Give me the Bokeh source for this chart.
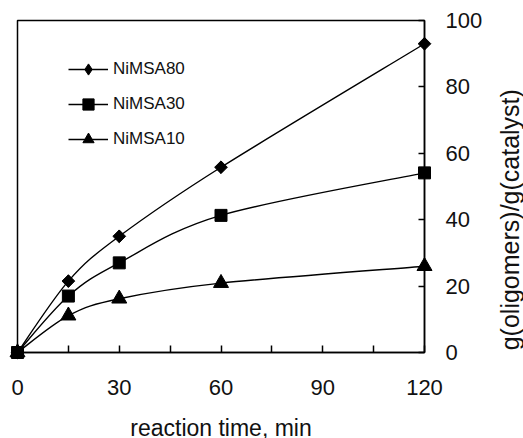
import numpy as np
from bokeh.plotting import figure
from bokeh.layouts import row, column
from bokeh.models import FixedTicker, Legend, LegendItem
from bokeh.core.properties import value
from bokeh.embed import file_html
from bokeh.resources import INLINE

# Oligomer yield per gram of catalyst vs. reaction time
time_min = [0, 15, 30, 60, 120]
nimsa80 = [0, 21.5, 35.0, 55.8, 93.0]
nimsa30 = [0, 17.0, 27.0, 41.3, 54.1]
nimsa10 = [0, 11.1, 16.2, 20.9, 26.0]

x_ticks = [0, 15, 30, 45, 60, 75, 90, 105, 120]
x_tick_labels = ["0", "", "30", "", "60", "", "90", "", "120"]
y_ticks = [0, 20, 40, 60, 80, 100]
x_title = "reaction time, min"
y_title = "g(oligomers)/g(catalyst)"

FONT = "Liberation Sans"
INK = "#111111"

TOP, BOTTOM, LEFT, RIGHT = 20, 58, 17, 66
MAIN_W, MAIN_H = 490, 410
SIDE_W, FOOT_H = 33, 28


def smooth_segments(xs, ys):
    """Cubic Bezier segments (Catmull-Rom control points) through the points."""
    xs = np.asarray(xs, float)
    ys = np.asarray(ys, float)
    n = len(xs)
    px = np.concatenate([[xs[0]], xs, [xs[-1]]])
    py = np.concatenate([[ys[0]], ys, [ys[-1]]])
    return dict(
        x0=px[1:n], y0=py[1:n],
        x1=px[2:n + 1], y1=py[2:n + 1],
        cx0=px[1:n] + (px[2:n + 1] - px[0:n - 1]) / 6,
        cy0=py[1:n] + (py[2:n + 1] - py[0:n - 1]) / 6,
        cx1=px[2:n + 1] - (px[3:n + 2] - px[1:n]) / 6,
        cy1=py[2:n + 1] - (py[3:n + 2] - py[1:n]) / 6,
    )


def blank(fig):
    fig.title.visible = False
    fig.grid.visible = False
    fig.outline_line_color = None
    fig.background_fill_color = "white"
    fig.border_fill_color = "white"


p = figure(
    width=MAIN_W, height=MAIN_H,
    x_range=(0, 120), y_range=(0, 100),
    y_axis_location="right",
    min_border_left=LEFT, min_border_top=TOP,
    min_border_right=RIGHT, min_border_bottom=BOTTOM,
    output_backend="svg", toolbar_location=None,
)
blank(p)
p.outline_line_color = "black"
p.outline_line_width = 1.5

# (label, values, marker drawn on the curve)
series = [
    ("NiMSA80", nimsa80, dict(marker="square", angle=np.pi / 4, size=9)),
    ("NiMSA30", nimsa30, dict(marker="square", size=12)),
    ("NiMSA10", nimsa10, dict(marker="triangle", size=15)),
]

items = []
for name, vals, mk in series:
    curve = p.bezier(**smooth_segments(time_min, vals), line_color="black", line_width=1.4)
    # overlay level keeps the end markers whole where they sit on the frame edge
    pts = p.scatter(time_min, vals, color="black", level="overlay", **mk)
    key = pts
    if mk.get("angle"):
        # legend swatches ignore marker angle, so give this series a diamond key
        # that sits entirely inside the turned square
        key = p.scatter(time_min, vals, marker="diamond", size=12, color="black", level="overlay")
    items.append(LegendItem(label=name, renderers=[curve, key]))

legend = Legend(
    items=items, location=(51, 199),
    glyph_width=40, glyph_height=28, label_height=28, spacing=7,
    label_standoff=5, padding=0, margin=0,
    border_line_color=None, background_fill_alpha=0,
    label_text_font=FONT, label_text_font_size="17px", label_text_color=INK,
)
p.add_layout(legend)

xa = p.xaxis[0]
xa.ticker = FixedTicker(ticks=x_ticks)
xa.major_label_overrides = {t: lab for t, lab in zip(x_ticks, x_tick_labels)}
xa.minor_tick_line_color = None
xa.major_tick_in = 7
xa.major_tick_out = 0
xa.axis_line_width = 1.5
xa.major_tick_line_width = 1.5
xa.major_label_standoff = 27
xa.major_label_text_font = FONT
xa.major_label_text_font_size = "22px"
xa.major_label_text_color = INK

ya = p.yaxis[0]
ya.ticker = FixedTicker(ticks=y_ticks)
ya.minor_tick_line_color = None
ya.major_tick_in = 6
ya.major_tick_out = 0
ya.axis_line_width = 1.5
ya.major_tick_line_width = 1.5
ya.major_label_standoff = 21
ya.major_label_text_font = FONT
ya.major_label_text_font_size = "22px"
ya.major_label_text_color = INK

# Narrow strip on the right carrying the y title, sharing the y scale
side = figure(
    width=SIDE_W, height=MAIN_H,
    x_range=(0, SIDE_W), y_range=p.y_range,
    x_axis_location=None, y_axis_location=None,
    min_border_left=0, min_border_right=0,
    min_border_top=TOP, min_border_bottom=BOTTOM,
    output_backend="svg", toolbar_location=None,
)
blank(side)
side.text(
    x=[19.5], y=[40], text=[y_title], angle=np.pi / 2,
    text_align="center", text_baseline="middle",
    text_font=value(FONT), text_font_size="25px", text_color=INK,
)

# Strip along the bottom carrying the x title, sharing the x scale;
# the text hangs from the top edge of the strip
foot = figure(
    width=MAIN_W + SIDE_W, height=FOOT_H,
    x_range=p.x_range, y_range=(0, 1),
    x_axis_location=None, y_axis_location=None,
    min_border_left=LEFT, min_border_right=MAIN_W + SIDE_W - 424,
    min_border_top=0, min_border_bottom=0,
    output_backend="svg", toolbar_location=None,
)
blank(foot)
foot.text(
    x=[60], y=[1], text=[x_title], y_offset=4,
    text_align="center", text_baseline="top",
    text_font=value(FONT), text_font_size="23px", text_color=INK,
)

layout = column(row(p, side, spacing=0), foot, spacing=0)
open("out.html", "w").write(file_html(layout, INLINE))
